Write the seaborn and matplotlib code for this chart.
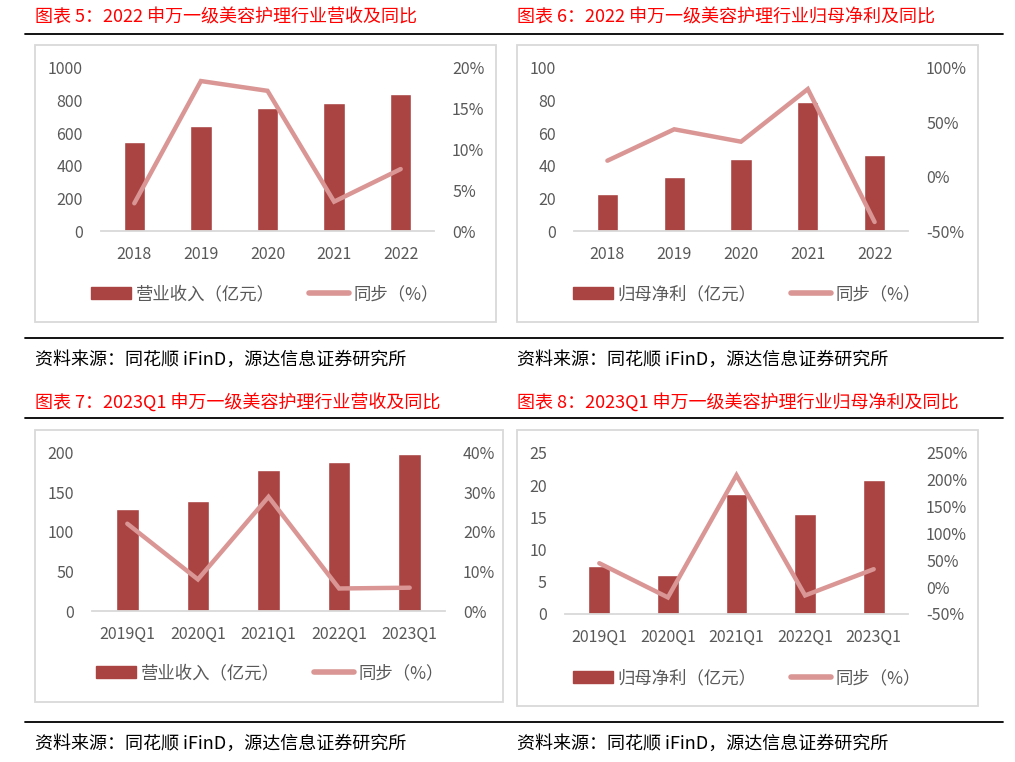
import numpy as np
import matplotlib
matplotlib.use("Agg")
import matplotlib.pyplot as plt
import seaborn as sns
from matplotlib.patches import Rectangle, Patch
from matplotlib.lines import Line2D
from matplotlib.ticker import FuncFormatter

# data
years = ["2018", "2019", "2020", "2021", "2022"]
quarters = ["2019Q1", "2020Q1", "2021Q1", "2022Q1", "2023Q1"]

rev_2022 = [544, 645, 756, 784, 842]
rev_2022_yoy = [3.4, 18.4, 17.2, 3.6, 7.6]
np_2022 = [23.0, 33.1, 43.9, 79.0, 46.4]
np_2022_yoy = [14.7, 43.6, 32.2, 80.6, -41.7]
rev_q1 = [129, 138.8, 178.9, 188.6, 199.2]
rev_q1_yoy = [22.1, 8.0, 28.9, 5.7, 5.9]
np_q1 = [7.47, 6.03, 18.6, 15.6, 20.8]
np_q1_yoy = [44.6, -19.1, 208.6, -15.4, 33.5]

titles = [
    "图表 5：2022 申万一级美容护理行业营收及同比",
    "图表 6：2022 申万一级美容护理行业归母净利及同比",
    "图表 7：2023Q1 申万一级美容护理行业营收及同比",
    "图表 8：2023Q1 申万一级美容护理行业归母净利及同比",
]
source = "资料来源：同花顺 iFinD，源达信息证券研究所"
rev_label = "营业收入（亿元）"
np_label = "归母净利（亿元）"
yoy_label = "同步（%）"

sns.set_theme(style="white")
plt.rcParams["font.family"] = ["Noto Sans CJK SC", "DejaVu Sans"]

BAR = "#A94442"
LINE = "#D99694"
TICK = "#595959"
W, H = 1015, 762

fig = plt.figure(figsize=(W / 100, H / 100), dpi=100)


def fx(px):
    return px / W


def fy(py):
    return 1 - py / H


def hline(y, x0=25, x1=1003):
    fig.add_artist(Line2D([fx(x0), fx(x1)], [fy(y), fy(y)], color="black", lw=1.3))


def panel(box, axbox, cats, bars, yoy, bar_label, lticks, rticks, leg_xy):
    bx0, by0, bx1, by1 = box
    fig.add_artist(Rectangle((fx(bx0), fy(by1)), (bx1 - bx0) / W, (by1 - by0) / H,
                             transform=fig.transFigure, fill=False,
                             edgecolor="#D9D9D9", lw=1.3))
    x0, y0, x1, y1 = axbox
    ax = fig.add_axes([fx(x0), fy(y1), (x1 - x0) / W, (y1 - y0) / H])
    ax.patch.set_alpha(0)
    sns.barplot(x=cats, y=bars, color=BAR, saturation=1, width=0.32, ax=ax)
    ax.set_ylim(lticks[0], lticks[-1])
    ax.set_yticks(lticks)
    ax.set_xlim(-0.5, len(cats) - 0.5)

    ax2 = ax.twinx()
    sns.lineplot(x=np.arange(len(cats)), y=yoy, color=LINE, lw=3.2, ax=ax2)
    for l in ax2.lines:
        l.set_solid_capstyle("round")
        l.set_solid_joinstyle("miter")
    ax2.set_ylim(rticks[0], rticks[-1])
    ax2.set_yticks(rticks)
    ax2.yaxis.set_major_formatter(FuncFormatter(lambda v, p: f"{v:.0f}%"))

    for a in (ax, ax2):
        for s in ("top", "left", "right", "bottom"):
            a.spines[s].set_visible(False)
        a.set_xlabel("")
        a.set_ylabel("")
        a.grid(False)
    ax.spines["bottom"].set_visible(True)
    ax.spines["bottom"].set_color("#D9D9D9")
    ax.spines["bottom"].set_linewidth(1.3)
    ax.tick_params(axis="y", length=0, pad=13, labelsize=11.5, labelcolor=TICK)
    ax.tick_params(axis="x", length=0, pad=11, labelsize=11.5, labelcolor=TICK)
    ax2.tick_params(axis="y", length=0, pad=13, labelsize=11.5, labelcolor=TICK)

    handles = [Patch(color=BAR, label=bar_label),
               Line2D([], [], color=LINE, lw=4, label=yoy_label)]
    fig.legend(handles=handles, loc="center", bbox_to_anchor=(fx(leg_xy[0]), fy(leg_xy[1])),
               ncol=2, frameon=False, fontsize=12.5, handlelength=2.3,
               handletextpad=0.25, columnspacing=2.0, labelcolor=TICK)


# headers / rules / sources
for y in (34, 338, 418, 722):
    hline(y)
for (x, y), t in zip([(35, 18), (517, 18), (35, 402), (517, 402)], titles):
    fig.text(fx(x), fy(y), t, color="#FF0000", fontsize=13, va="center", ha="left")
for x, y in [(35, 360), (517, 360), (35, 744), (517, 744)]:
    fig.text(fx(x), fy(y), source, color="black", fontsize=13, va="center", ha="left")

panel((35, 45, 496, 322), (101, 68, 434, 231), years, rev_2022, rev_2022_yoy, rev_label,
      [0, 200, 400, 600, 800, 1000], [0, 5, 10, 15, 20], (265, 294))
panel((517, 45, 978, 322), (574, 68, 908, 231), years, np_2022, np_2022_yoy, np_label,
      [0, 20, 40, 60, 80, 100], [-50, 0, 50, 100], (747, 294))
panel((35, 430, 503, 702), (92, 453, 445, 611), quarters, rev_q1, rev_q1_yoy, rev_label,
      [0, 50, 100, 150, 200], [0, 10, 20, 30, 40], (270, 673))
panel((517, 430, 978, 706), (565, 453, 908, 614), quarters, np_q1, np_q1_yoy, np_label,
      [0, 5, 10, 15, 20, 25], [-50, 0, 50, 100, 150, 200, 250], (747, 678))

fig.savefig("out.png", dpi=100)
